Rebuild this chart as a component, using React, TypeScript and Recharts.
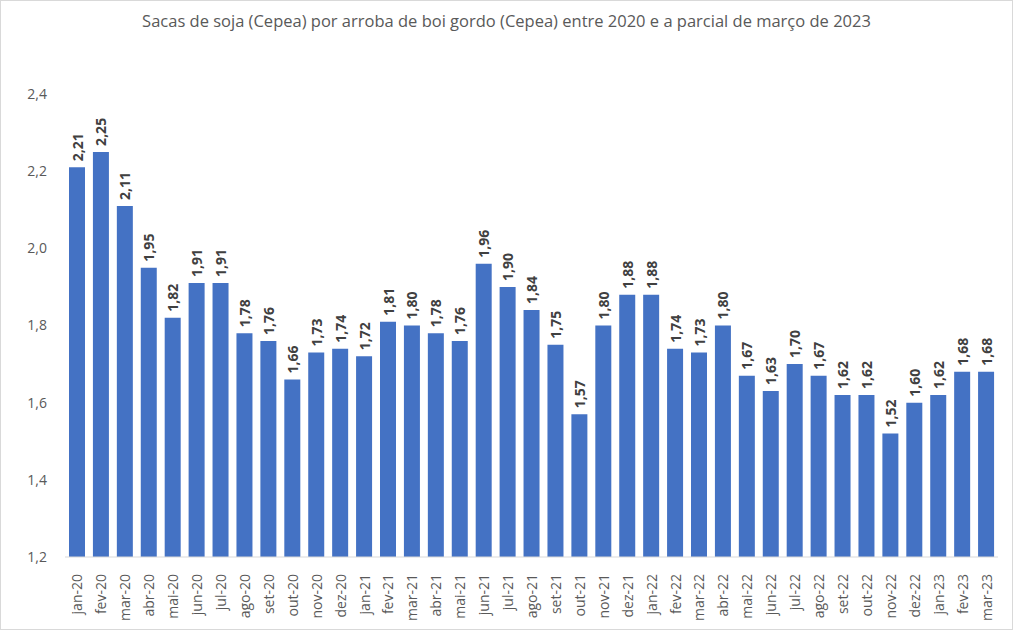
import { BarChart, Bar, XAxis, YAxis, LabelList } from "recharts";

const months = [
  "jan-20", "fev-20", "mar-20", "abr-20", "mai-20", "jun-20", "jul-20", "ago-20", "set-20", "out-20", "nov-20", "dez-20",
  "jan-21", "fev-21", "mar-21", "abr-21", "mai-21", "jun-21", "jul-21", "ago-21", "set-21", "out-21", "nov-21", "dez-21",
  "jan-22", "fev-22", "mar-22", "abr-22", "mai-22", "jun-22", "jul-22", "ago-22", "set-22", "out-22", "nov-22", "dez-22",
  "jan-23", "fev-23", "mar-23",
];

const sacasPorArroba = [
  2.21, 2.25, 2.11, 1.95, 1.82, 1.91, 1.91, 1.78, 1.76, 1.66, 1.73, 1.74,
  1.72, 1.81, 1.8, 1.78, 1.76, 1.96, 1.9, 1.84, 1.75, 1.57, 1.8, 1.88,
  1.88, 1.74, 1.73, 1.8, 1.67, 1.63, 1.7, 1.67, 1.62, 1.62, 1.52, 1.6,
  1.62, 1.68, 1.68,
];

const yTicks = [1.2, 1.4, 1.6, 1.8, 2.0, 2.2, 2.4];

const data = months.map((m, i) => ({ mes: m, valor: sacasPorArroba[i] }));

const FONT = "'Open Sans', 'Noto Sans', sans-serif";
const fmt = (v: number, d: number) => v.toFixed(d).replace(".", ",");

function MonthTick(props: any) {
  const { x, y, payload } = props;
  return (
    <text
      transform={`translate(${x},${y + 9}) rotate(-90)`}
      textAnchor="end"
      dominantBaseline="central"
      fontSize={14}
      fontFamily={FONT}
      fill="#595959"
    >
      {payload.value}
    </text>
  );
}

function ValueLabel(props: any) {
  const { x, y, width, value } = props;
  return (
    <text
      transform={`translate(${x + width / 2},${y - 6}) rotate(-90)`}
      textAnchor="start"
      dominantBaseline="central"
      fontSize={14}
      fontWeight="bold"
      fontFamily={FONT}
      fill="#404040"
    >
      {fmt(value, 2)}
    </text>
  );
}

export default function App() {
  return (
    <div
      style={{
        position: "absolute",
        left: 0,
        top: 0,
        width: 1011,
        height: 628,
        border: "1px solid #d9d9d9",
        background: "#fff",
      }}
    >
      <div
        style={{
          position: "absolute",
          top: 8,
          width: "100%",
          textAlign: "center",
          fontFamily: FONT,
          fontSize: 16.5,
          color: "#595959",
        }}
      >
        Sacas de soja (Cepea) por arroba de boi gordo (Cepea) entre 2020 e a parcial de março de 2023
      </div>
      <BarChart
        width={1011}
        height={628}
        data={data}
        margin={{ top: 93, right: 14, bottom: 0, left: 0 }}
        barCategoryGap={4}
      >
        <XAxis
          dataKey="mes"
          interval={0}
          tickLine={false}
          axisLine={{ stroke: "#d9d9d9" }}
          tick={<MonthTick />}
          height={72}
        />
        <YAxis
          domain={[1.2, 2.4]}
          ticks={yTicks}
          width={64}
          tickLine={false}
          axisLine={false}
          tickMargin={12}
          tickFormatter={(v: number) => fmt(v, 1)}
          tick={{ fontSize: 14, fontFamily: FONT, fill: "#595959" }}
        />
        <Bar dataKey="valor" fill="#4472c4" barSize={16} isAnimationActive={false}>
          <LabelList dataKey="valor" content={<ValueLabel />} />
        </Bar>
      </BarChart>
    </div>
  );
}
